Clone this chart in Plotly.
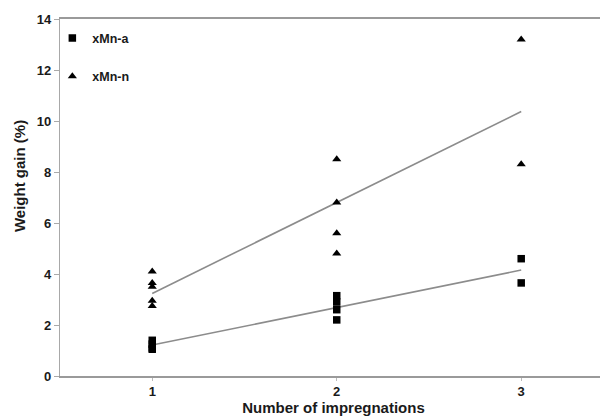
import numpy as np
import plotly.graph_objects as go

# Data
a_x = [1, 1, 1, 1, 2, 2, 2, 2, 3, 3]
a_y = [1.4, 1.25, 1.1, 1.05, 3.15, 2.9, 2.6, 2.2, 4.6, 3.65]
n_x = [1, 1, 1, 1, 1, 2, 2, 2, 2, 3, 3]
n_y = [4.1, 3.65, 3.5, 2.95, 2.75, 8.5, 6.8, 5.6, 4.8, 13.2, 8.3]
x_ticks = [1, 2, 3]
y_ticks = [0, 2, 4, 6, 8, 10, 12, 14]

FONT = "Liberation Sans, Arial, sans-serif"
TXT = "#1a1a1a"

fit_x = np.array([1, 3])
pa = np.polyfit(a_x, a_y, 1)
pn = np.polyfit(n_x, n_y, 1)

fig = go.Figure()
fig.add_trace(go.Scatter(x=fit_x, y=np.polyval(pn, fit_x), mode="lines",
                         line=dict(color="#8c8c8c", width=1.6), showlegend=False, hoverinfo="skip"))
fig.add_trace(go.Scatter(x=fit_x, y=np.polyval(pa, fit_x), mode="lines",
                         line=dict(color="#8c8c8c", width=1.6), showlegend=False, hoverinfo="skip"))
fig.add_trace(go.Scatter(x=a_x, y=a_y, mode="markers", name="xMn-a", legendgroup="a",
                         marker=dict(symbol="square", size=7.5, color="#000000")))
fig.add_trace(go.Scatter(x=n_x, y=n_y, mode="markers", name="xMn-n", legendgroup="n",
                         marker=dict(symbol="triangle-up", size=8, color="#000000")))

# page body has an 8px default margin, so the figure is 600x408
fig.update_layout(
    width=600, height=408,
    margin=dict(l=52, r=1, t=11, b=40),
    paper_bgcolor="white", plot_bgcolor="white",
    font=dict(family=FONT, color=TXT, size=12),
    legend=dict(x=-0.014, y=0.988, xanchor="left", yanchor="top",
                bgcolor="rgba(0,0,0,0)", font=dict(size=12.5, color=TXT, weight="bold"),
                tracegroupgap=19, itemwidth=30),
    xaxis=dict(range=[0.5, 3.465], tickvals=x_ticks, ticktext=[str(v) for v in x_ticks],
               showgrid=False, zeroline=False, showline=True, linecolor="#9a9a9a", linewidth=1.5,
               mirror=True, ticks="outside", ticklen=3, tickcolor="#bbbbbb",
               tickfont=dict(size=13, family=FONT, color=TXT, weight="bold"),
               title=dict(text="Number of impregnations", standoff=2,
                          font=dict(size=15, family=FONT, color=TXT, weight="bold"))),
    yaxis=dict(range=[0, 14], tickvals=y_ticks, ticktext=[str(v) for v in y_ticks],
               showgrid=False, zeroline=False, showline=True, linecolor="#a8a8a8", linewidth=1.3,
               mirror=True, ticks="outside", ticklen=5, tickcolor="#aaaaaa",
               tickfont=dict(size=13, family=FONT, color=TXT, weight="bold")),
    annotations=[dict(text="Weight gain (%)", textangle=-90, xref="paper", yref="paper",
                      x=-0.075, y=0.56, xanchor="center", yanchor="middle", showarrow=False,
                      font=dict(size=15, family=FONT, color=TXT, weight="bold"))],
)

fig.write_html("out.html")
